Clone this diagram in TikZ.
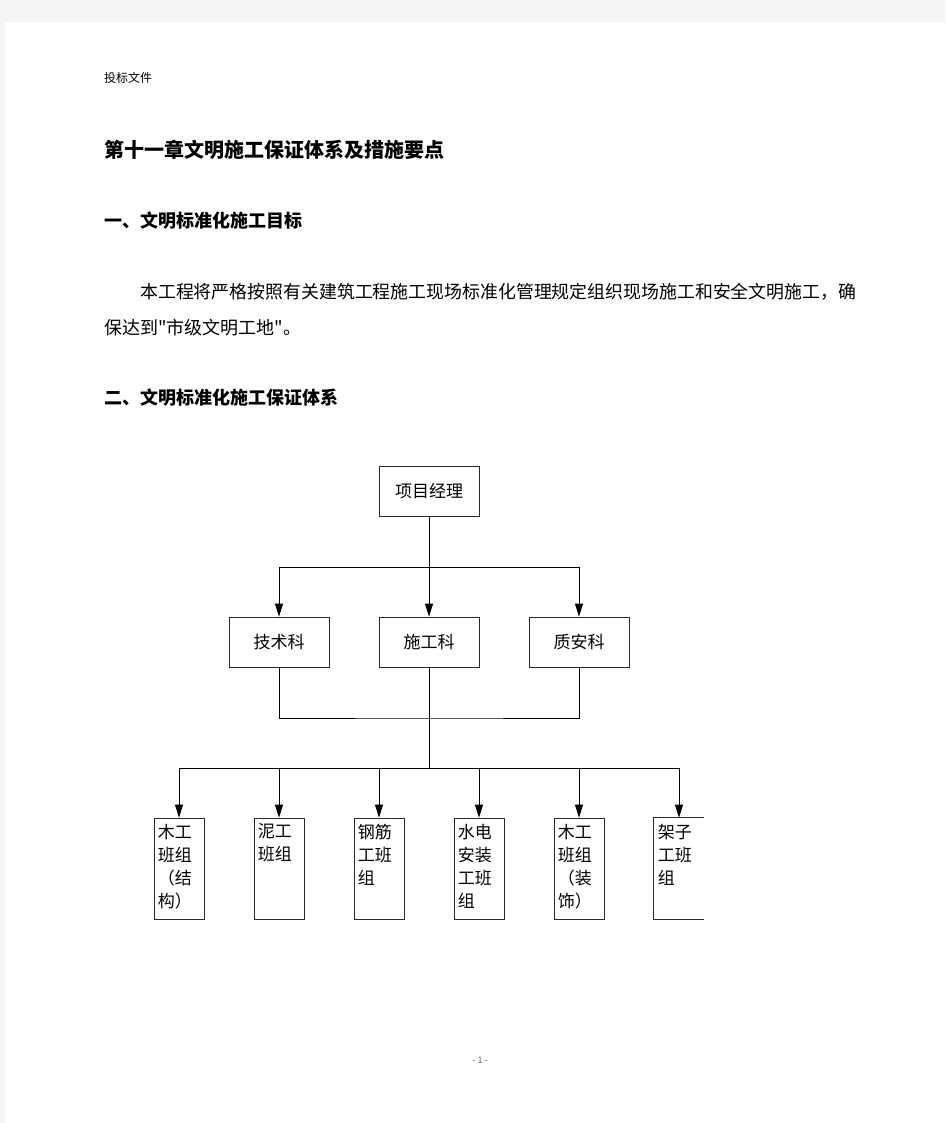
\documentclass[tikz,border=0pt]{standalone}
\usepackage{fontspec}
\setmainfont{Noto Sans CJK SC}
\newfontfamily\plainq{Noto Sans CJK SC}
\usetikzlibrary{arrows.meta}
\definecolor{pagegray}{HTML}{F4F4F4}
\definecolor{linegray}{HTML}{2A2A2A}
\tikzset{
  txt/.style={anchor=west, inner sep=0pt},
  box/.style={draw=linegray, line width=0.8pt, minimum width=100pt, minimum height=50pt, inner sep=0pt, font=\fontsize{17pt}{20pt}\selectfont},
  tall/.style={minimum width=50pt, minimum height=101pt},
  con/.style={draw=black, line width=0.8pt},
  arr/.style={con, -{Triangle[length=13pt,width=8pt]}},
  lbl/.style={anchor=north west, inner sep=0pt, align=left, font=\fontsize{17pt}{23pt}\selectfont}
}
\begin{document}
\begin{tikzpicture}[x=1pt,y=-1pt]
% page
\fill[pagegray] (0,0) rectangle (945,1123);
\fill[white] (5,22) rectangle (945,1123);
\useasboundingbox (0,0) rectangle (945,1123);

% header & text
\node[txt, font=\fontsize{12pt}{14pt}\selectfont] (hdr) at (104,78) {投标文件};
\node[txt, font=\fontsize{20pt}{24pt}\selectfont\bfseries] (title) at (104,150) {第十一章文明施工保证体系及措施要点};
\node[txt, font=\fontsize{18pt}{22pt}\selectfont\bfseries] (h1) at (104,221) {一、文明标准化施工目标};
\node[txt, font=\fontsize{17.9pt}{22pt}\selectfont] (p1) at (140,292) {本工程将严格按照有关建筑工程施工现场标准化管理规定组织现场施工和安全文明施工，确};
\node[txt, font=\fontsize{18pt}{22pt}\selectfont] (p2) at (104,328) {保达到{\plainq"}市级文明工地{\plainq"}。};
\node[txt, font=\fontsize{18pt}{22pt}\selectfont\bfseries] (h2) at (104,398) {二、文明标准化施工保证体系};

% chart nodes
\node[box] (pm) at (429,491) {项目经理};
\node[box] (t1) at (279,642) {技术科};
\node[box] (t2) at (429,642) {施工科};
\node[box] (t3) at (579,642) {质安科};

\node[box, tall] (b1) at (179,868.5) {};
\node[box, tall] (b2) at (279,868.5) {};
\node[box, tall] (b3) at (379,868.5) {};
\node[box, tall] (b4) at (479,868.5) {};
\node[box, tall] (b5) at (579,868.5) {};
\node[box, tall, draw=none] (b6) at (679,868.5) {};
\draw[draw=linegray, line width=0.8pt] (b6.north east) -- (b6.north west) -- (b6.south west) -- (b6.south east);

\node[lbl] (l1) at ([xshift=4pt,yshift=-6pt]b1.north west) {木工\\班组\\（结\\构）};
\node[lbl] (l2) at ([xshift=4pt,yshift=-6pt]b2.north west) {泥工\\班组};
\node[lbl] (l3) at ([xshift=4pt,yshift=-6pt]b3.north west) {钢筋\\工班\\组};
\node[lbl] (l4) at ([xshift=4pt,yshift=-6pt]b4.north west) {水电\\安装\\工班\\组};
\node[lbl] (l5) at ([xshift=4pt,yshift=-6pt]b5.north west) {木工\\班组\\（装\\饰）};
\node[lbl] (l6) at ([xshift=4pt,yshift=-6pt]b6.north west) {架子\\工班\\组};

% junctions
\coordinate (j1) at (429,567);
\coordinate (j2) at (429,718);
\coordinate (j3) at (429,768);

% connectors
\draw[con] (pm.south) -- (j1);
\draw[arr] (j1) -| (t1.north);
\draw[arr] (j1) -- (t2.north);
\draw[arr] (j1) -| (t3.north);

\draw[con] (t1.south) |- (j2) -| (t3.south);
\draw[con] (t2.south) -- (j3);
\draw[arr] (j3) -| (b1.north);
\draw[arr] (j3) -| (b2.north);
\draw[arr] (j3) -| (b3.north);
\draw[arr] (j3) -| (b4.north);
\draw[arr] (j3) -| (b5.north);
\draw[arr] (j3) -| (b6.north);

% page number
\node[anchor=center, inner sep=0pt, text=black!60, font=\fontsize{9pt}{11pt}\selectfont] (pg) at (480,1060) {- 1 -};
\end{tikzpicture}
\end{document}
